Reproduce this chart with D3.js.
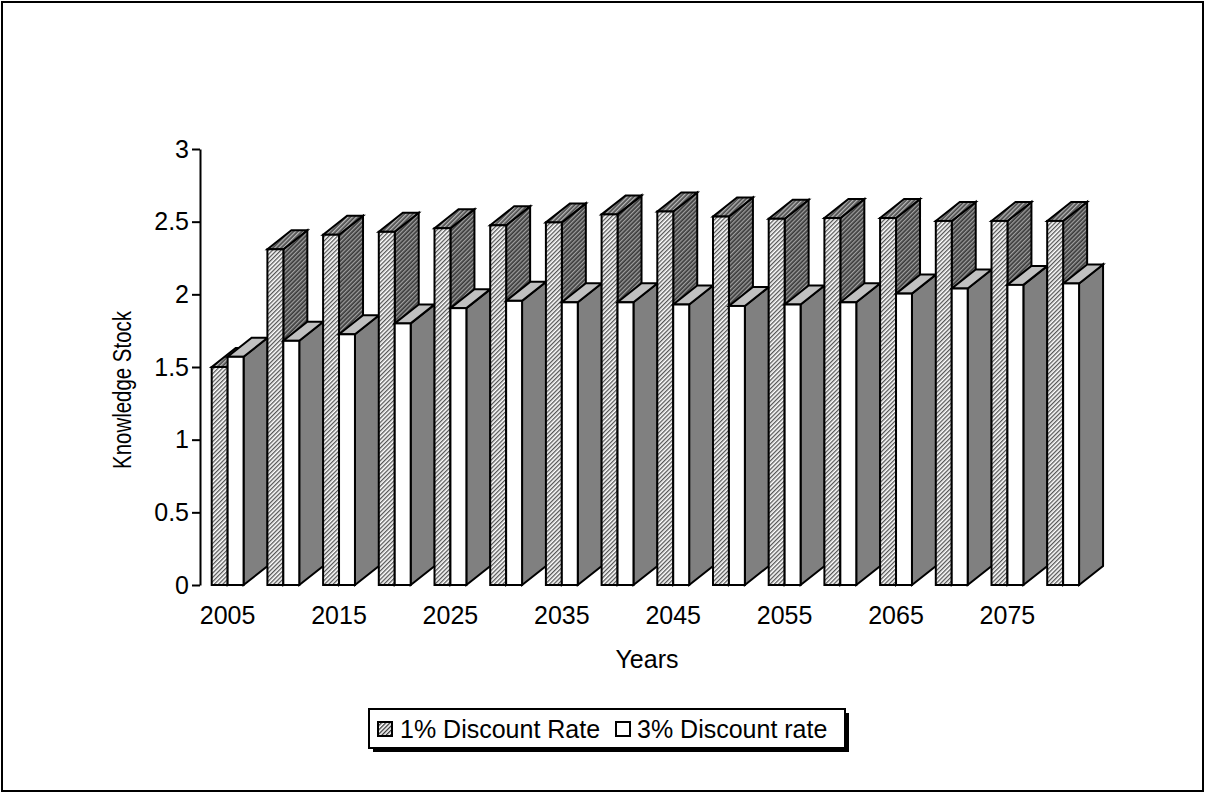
<!DOCTYPE html>
<html>
<head>
<meta charset="utf-8">
<script src="https://cdn.jsdelivr.net/npm/d3@7"></script>
<style>
  body { margin: 0; background: #fff; }
  text { font-family: "Liberation Sans", Arial, sans-serif; fill: #000; }
</style>
</head>
<body>
<div id="chart"></div>
<script>
const years = [2005, 2010, 2015, 2020, 2025, 2030, 2035, 2040, 2045, 2050, 2055, 2060, 2065, 2070, 2075, 2080]
const labelYears = [2005, 2015, 2025, 2035, 2045, 2055, 2065, 2075]
const rate1 = [1.50, 2.31, 2.41, 2.43, 2.455, 2.475, 2.495, 2.55, 2.57, 2.535, 2.52, 2.525, 2.525, 2.505, 2.505, 2.505]
const rate3 = [1.57, 1.68, 1.725, 1.80, 1.905, 1.955, 1.945, 1.945, 1.93, 1.92, 1.93, 1.945, 2.005, 2.04, 2.065, 2.075]
const yTicks = [0, 0.5, 1, 1.5, 2, 2.5, 3]
const seriesNames = ["1% Discount Rate", "3% Discount rate"]

const width = 1205, height = 794

const svg = d3.select("#chart").append("svg")
  .attr("width", width)
  .attr("height", height)

const defs = svg.append("defs")
function hatch(id, bg, fg) {
  const p = defs.append("pattern")
    .attr("id", id)
    .attr("patternUnits", "userSpaceOnUse")
    .attr("width", 3).attr("height", 3)
    .attr("patternTransform", "rotate(45)")
  p.append("rect").attr("width", 3).attr("height", 3).attr("fill", bg)
  p.append("rect").attr("width", 1.3).attr("height", 3).attr("fill", fg)
}
hatch("hFront", "#ffffff", "#555555")
hatch("hSide", "#3a3a3a", "#a0a0a0")
hatch("hTop", "#4a4a4a", "#b8b8b8")
hatch("hLegend", "#ffffff", "#333333")

// outer frame
svg.append("rect")
  .attr("x", 2).attr("y", 2)
  .attr("width", width - 4).attr("height", height - 5)
  .attr("fill", "none").attr("stroke", "#000").attr("stroke-width", 2)

const y = d3.scaleLinear().domain([0, 3]).range([585, 149])
const x = d3.scaleBand().domain(years).range([211.7, 1102.9]).padding(0)

const bw = x.step() * 0.286   // front face width
const dx = 24, dy = -19        // depth offset

const data = years.map((yr, i) => ({year: yr, a: rate1[i], b: rate3[i]}))

function bar(g, x0, v, front, side, top) {
  const x1 = x0 + bw, yb = y(0), yt = y(v)
  g.append("path")
    .attr("d", `M${x1},${yb}L${x1 + dx},${yb + dy}L${x1 + dx},${yt + dy}L${x1},${yt}Z`)
    .attr("fill", side)
  g.append("path")
    .attr("d", `M${x0},${yt}L${x0 + dx},${yt + dy}L${x1 + dx},${yt + dy}L${x1},${yt}Z`)
    .attr("fill", top)
  g.append("rect")
    .attr("x", x0).attr("y", yt)
    .attr("width", bw).attr("height", yb - yt)
    .attr("fill", front)
}

const bars = svg.append("g")
  .attr("stroke", "#000")
  .attr("stroke-width", 2)
  .attr("stroke-linejoin", "miter")
data.forEach(d => {
  const g = bars.append("g")
  bar(g, x(d.year), d.a, "url(#hFront)", "url(#hSide)", "url(#hTop)")
  bar(g, x(d.year) + bw, d.b, "#ffffff", "#808080", "#c0c0c0")
})

// y axis
const yAxis = svg.append("g")
  .attr("transform", "translate(200,0)")
  .call(d3.axisLeft(y).tickValues(yTicks).tickSize(8).tickSizeOuter(0).tickPadding(3).tickFormat(d => String(d)))
yAxis.select(".domain").attr("stroke-width", 2)
yAxis.selectAll(".tick line").attr("stroke-width", 2)
yAxis.selectAll(".tick text")
  .attr("font-size", 25)
  .attr("font-family", "Liberation Sans, Arial, sans-serif")

// x labels
svg.append("g").selectAll("text")
  .data(labelYears)
  .join("text")
  .attr("x", d => x(d) + bw)
  .attr("y", 624)
  .attr("text-anchor", "middle")
  .attr("font-size", 25)
  .text(d => d)

svg.append("text")
  .attr("x", 647).attr("y", 668)
  .attr("text-anchor", "middle")
  .attr("font-size", 25)
  .text("Years")

svg.append("text")
  .attr("transform", "translate(131,390) rotate(-90)")
  .attr("text-anchor", "middle")
  .attr("font-size", 26)
  .attr("textLength", 158)
  .attr("lengthAdjust", "spacingAndGlyphs")
  .text("Knowledge Stock")

// legend
const lg = svg.append("g").attr("transform", "translate(369,709)")
lg.append("rect").attr("x", 4).attr("y", 4).attr("width", 476).attr("height", 39).attr("fill", "#000")
lg.append("rect").attr("width", 476).attr("height", 39).attr("fill", "#fff").attr("stroke", "#000").attr("stroke-width", 2)
const swatches = [{fill: "url(#hLegend)", x: 9, tx: 31}, {fill: "#ffffff", x: 247, tx: 268}]
swatches.forEach((s, i) => {
  lg.append("rect").attr("x", s.x).attr("y", 13).attr("width", 14).attr("height", 14)
    .attr("fill", s.fill).attr("stroke", "#000").attr("stroke-width", 2)
  lg.append("text").attr("x", s.tx).attr("y", 29).attr("font-size", 25).text(seriesNames[i])
})
</script>
</body>
</html>
